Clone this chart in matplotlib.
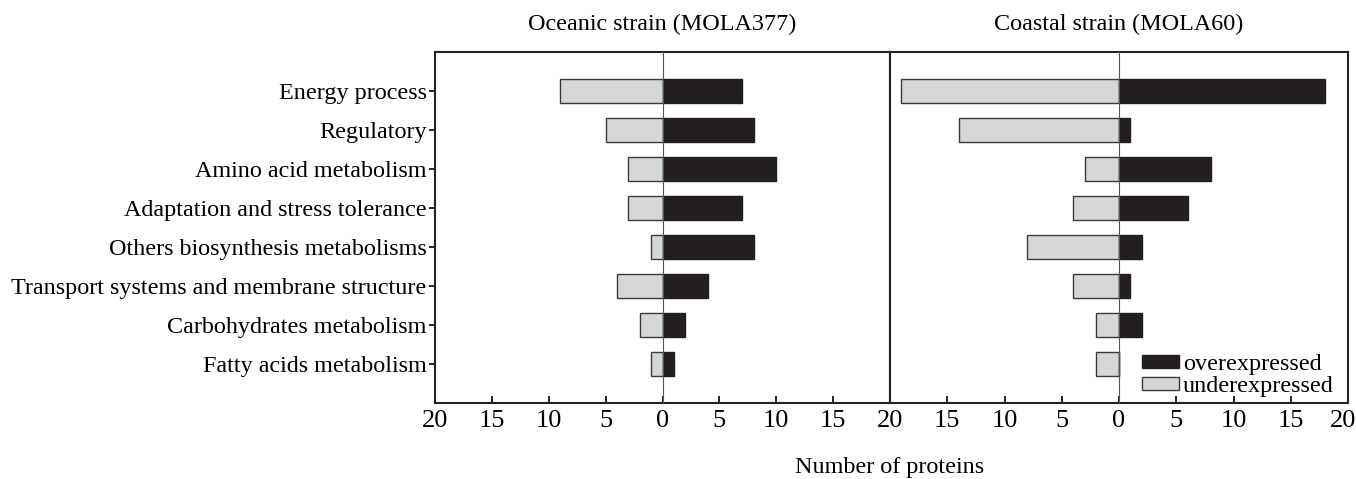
import matplotlib.pyplot as plt
import matplotlib.transforms as mtransforms
import numpy as np

plt.rcParams['font.family'] = ['Liberation Serif', 'DejaVu Serif']

categories = [
    "Energy process",
    "Regulatory",
    "Amino acid metabolism",
    "Adaptation and stress tolerance",
    "Others biosynthesis metabolisms",
    "Transport systems and membrane structure",
    "Carbohydrates metabolism",
    "Fatty acids metabolism",
]

# Oceanic strain (MOLA377)
oceanic_over = [7, 8, 10, 7, 8, 4, 2, 1]
oceanic_under = [9, 5, 3, 3, 1, 4, 2, 1]

# Coastal strain (MOLA60)
coastal_over = [18, 1, 8, 6, 2, 1, 2, 0]
coastal_under = [19, 14, 3, 4, 8, 4, 2, 2]

x_ticks = [-20, -15, -10, -5, 0, 5, 10, 15, 20]
x_ticklabels = ["20", "15", "10", "5", "0", "5", "10", "15", "20"]

dark = "#231f20"
light = "#d6d7d9"
edge = "#3a3a3a"
fs = 17.4

fig = plt.figure(figsize=(13.56, 4.79), dpi=100)
ax1 = fig.add_axes([435 / 1356, 1 - 403 / 479, 455 / 1356, 351 / 479])
ax2 = fig.add_axes([890 / 1356, 1 - 403 / 479, 458 / 1356, 351 / 479])

y = np.arange(len(categories))
for ax, over, under, title in [
    (ax1, oceanic_over, oceanic_under, "Oceanic strain (MOLA377)"),
    (ax2, coastal_over, coastal_under, "Coastal strain (MOLA60)"),
]:
    ax.barh(y, [-u for u in under], height=0.6, color=light, edgecolor=edge,
            linewidth=1.0, label="underexpressed", zorder=2)
    ax.barh(y, over, height=0.6, color=dark, edgecolor=dark,
            linewidth=1.0, label="overexpressed", zorder=2)
    ax.axvline(0, color="#555555", linewidth=0.8, zorder=3)
    ax.set_xlim(-20, 20)
    ax.set_ylim(8, -1)
    ax.set_xticks(x_ticks)
    ax.set_xticklabels(x_ticklabels, fontsize=19)
    ax.tick_params(axis="x", direction="in", length=5, width=1.2, pad=5)
    for s in ax.spines.values():
        s.set_linewidth(1.5)
        s.set_color("#222222")
    ax.set_title(title, fontsize=fs, pad=16)

ax1.set_yticks(y)
ax1.set_yticklabels(categories, fontsize=fs)
ax1.tick_params(axis="y", direction="out", length=4, width=1.2, pad=2)
ax2.set_yticks([])

# shared "20" at the panel joint is drawn once
ax2.get_xticklabels()[0].set_visible(False)
# keep the last "20" inside the figure, as in the original
last = ax2.get_xticklabels()[-1]
last.set_transform(last.get_transform() +
                   mtransforms.ScaledTranslation(-5 / 100, 0, fig.dpi_scale_trans))

handles, labels = ax2.get_legend_handles_labels()
ax2.legend(handles[::-1], labels[::-1], loc="lower right", frameon=False,
           bbox_to_anchor=(0.982, 0.0),
           fontsize=fs, handlelength=1.55, handleheight=0.45, handletextpad=0.15,
           labelspacing=0.05, borderaxespad=0.05, borderpad=0.2)

fig.text(890 / 1356, 1 - 467 / 479, "Number of proteins", ha="center",
         va="center", fontsize=fs)

fig.savefig("out.png", dpi=100)
